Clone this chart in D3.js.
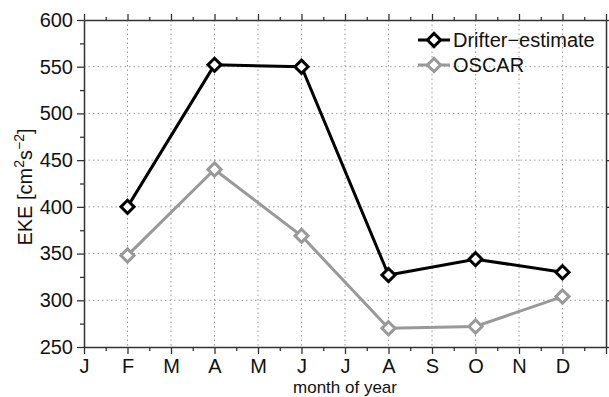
<!DOCTYPE html>
<html>
<head>
<meta charset="utf-8">
<script src="https://cdn.jsdelivr.net/npm/d3@7"></script>
<style>
  body { margin: 0; background: #fff; }
  svg { font-family: "Liberation Sans", Arial, sans-serif; }
</style>
</head>
<body>
<div id="chart"></div>
<script>
const monthLabels = ["J", "F", "M", "A", "M", "J", "J", "A", "S", "O", "N", "D"];
const months = [2, 4, 6, 8, 10, 12];
const drifter = [400, 552, 550, 327, 344, 330];
const oscar = [348, 440, 369, 270, 272, 304];
const yTicks = [250, 300, 350, 400, 450, 500, 550, 600];

const W = 609, H = 397;
const margin = { top: 20, right: 3, bottom: 50, left: 84 };
const width = W - margin.left - margin.right;
const height = H - margin.top - margin.bottom;

const svg = d3.select("#chart").append("svg")
  .attr("width", W).attr("height", H);
const g = svg.append("g").attr("transform", `translate(${margin.left},${margin.top})`);

const x = d3.scaleLinear().domain([1, 13]).range([0, width]);
const y = d3.scaleLinear().domain([250, 600]).range([height, 0]);

const majorX = d3.range(1, 14);
const minorX = d3.range(1.5, 13, 1);
const minorY = d3.range(275, 600, 50);

// grid
g.append("g").selectAll("line").data(majorX.slice(1, -1)).join("line")
  .attr("x1", d => x(d)).attr("x2", d => x(d))
  .attr("y1", 0).attr("y2", height)
  .attr("stroke", "#999").attr("stroke-width", 1).attr("stroke-dasharray", "1.5,3");
g.append("g").selectAll("line").data(yTicks.slice(1, -1)).join("line")
  .attr("x1", 0).attr("x2", width)
  .attr("y1", d => y(d)).attr("y2", d => y(d))
  .attr("stroke", "#999").attr("stroke-width", 1).attr("stroke-dasharray", "1.5,3");

// axes
function styleAxis(sel) {
  sel.select(".domain").attr("stroke", "#333").attr("stroke-width", 1.5);
  sel.selectAll(".tick line").attr("stroke", "#333").attr("stroke-width", 1.3);
}
const fs = "20px";

const xAxisBottom = g.append("g").attr("transform", `translate(0,${height})`)
  .call(d3.axisBottom(x).tickValues(majorX).tickSize(7).tickSizeOuter(0)
    .tickFormat(d => d <= 12 ? monthLabels[d - 1] : ""));
styleAxis(xAxisBottom);
xAxisBottom.selectAll("text").attr("font-size", fs).attr("fill", "#111")
  .attr("y", 26).attr("dy", 0);
g.append("g").attr("transform", `translate(0,${height})`)
  .call(d3.axisBottom(x).tickValues(minorX).tickSize(4).tickFormat(""))
  .call(s => { s.select(".domain").remove(); styleAxis(s); });

const xAxisTop = g.append("g")
  .call(d3.axisTop(x).tickValues(majorX).tickSize(6).tickSizeOuter(0).tickFormat(""));
styleAxis(xAxisTop);
g.append("g")
  .call(d3.axisTop(x).tickValues(minorX).tickSize(3).tickFormat(""))
  .call(s => { s.select(".domain").remove(); styleAxis(s); });

const yAxisLeft = g.append("g")
  .call(d3.axisLeft(y).tickValues(yTicks).tickSize(7).tickSizeOuter(0).tickPadding(4));
styleAxis(yAxisLeft);
yAxisLeft.selectAll("text").attr("font-size", fs).attr("fill", "#111");
g.append("g")
  .call(d3.axisLeft(y).tickValues(minorY).tickSize(4).tickFormat(""))
  .call(s => { s.select(".domain").remove(); styleAxis(s); });

const yAxisRight = g.append("g").attr("transform", `translate(${width},0)`)
  .call(d3.axisRight(y).tickValues(yTicks).tickSize(6).tickSizeOuter(0).tickFormat(""));
styleAxis(yAxisRight);

// axis titles
svg.append("text")
  .attr("x", margin.left + x(7)).attr("y", 393)
  .attr("text-anchor", "middle").attr("font-size", "17px").attr("fill", "#111")
  .text("month of year");

const yl = svg.append("text")
  .attr("transform", "translate(32,187) rotate(-90)")
  .attr("text-anchor", "middle").attr("font-size", "20px").attr("fill", "#111");
yl.append("tspan").text("EKE [cm");
yl.append("tspan").attr("font-size", "14px").attr("dy", "-8").text("2");
yl.append("tspan").attr("dy", "8").text("s");
yl.append("tspan").attr("font-size", "14px").attr("dy", "-8").text("\u22122");
yl.append("tspan").attr("dy", "8").text("]");

// series
const series = [
  { name: "Drifter\u2212estimate", values: drifter, color: "#000" },
  { name: "OSCAR", values: oscar, color: "#999" }
];
const line = d3.line().x(d => x(d[0])).y(d => y(d[1]));
const diamond = d3.symbol().type(d3.symbolDiamond2).size(110);

series.slice().reverse().forEach(s => {
  const pts = months.map((m, i) => [m, s.values[i]]);
  g.append("path").datum(pts)
    .attr("fill", "none").attr("stroke", s.color).attr("stroke-width", 3)
    .attr("d", line);
  g.append("g").selectAll("path").data(pts).join("path")
    .attr("transform", d => `translate(${x(d[0])},${y(d[1])})`)
    .attr("d", diamond)
    .attr("fill", "#fff").attr("stroke", s.color).attr("stroke-width", 3);
});

// legend
const lg = svg.append("g");
series.forEach((s, i) => {
  const ly = 40 + i * 25;
  lg.append("line").attr("x1", 418).attr("x2", 450).attr("y1", ly).attr("y2", ly)
    .attr("stroke", s.color).attr("stroke-width", 3);
  lg.append("path").attr("transform", `translate(434,${ly})`).attr("d", diamond)
    .attr("fill", "#fff").attr("stroke", s.color).attr("stroke-width", 3);
  lg.append("text").attr("x", 453).attr("y", ly).attr("dy", "0.36em")
    .attr("font-size", "20px").attr("fill", "#111").text(s.name);
});
</script>
</body>
</html>
